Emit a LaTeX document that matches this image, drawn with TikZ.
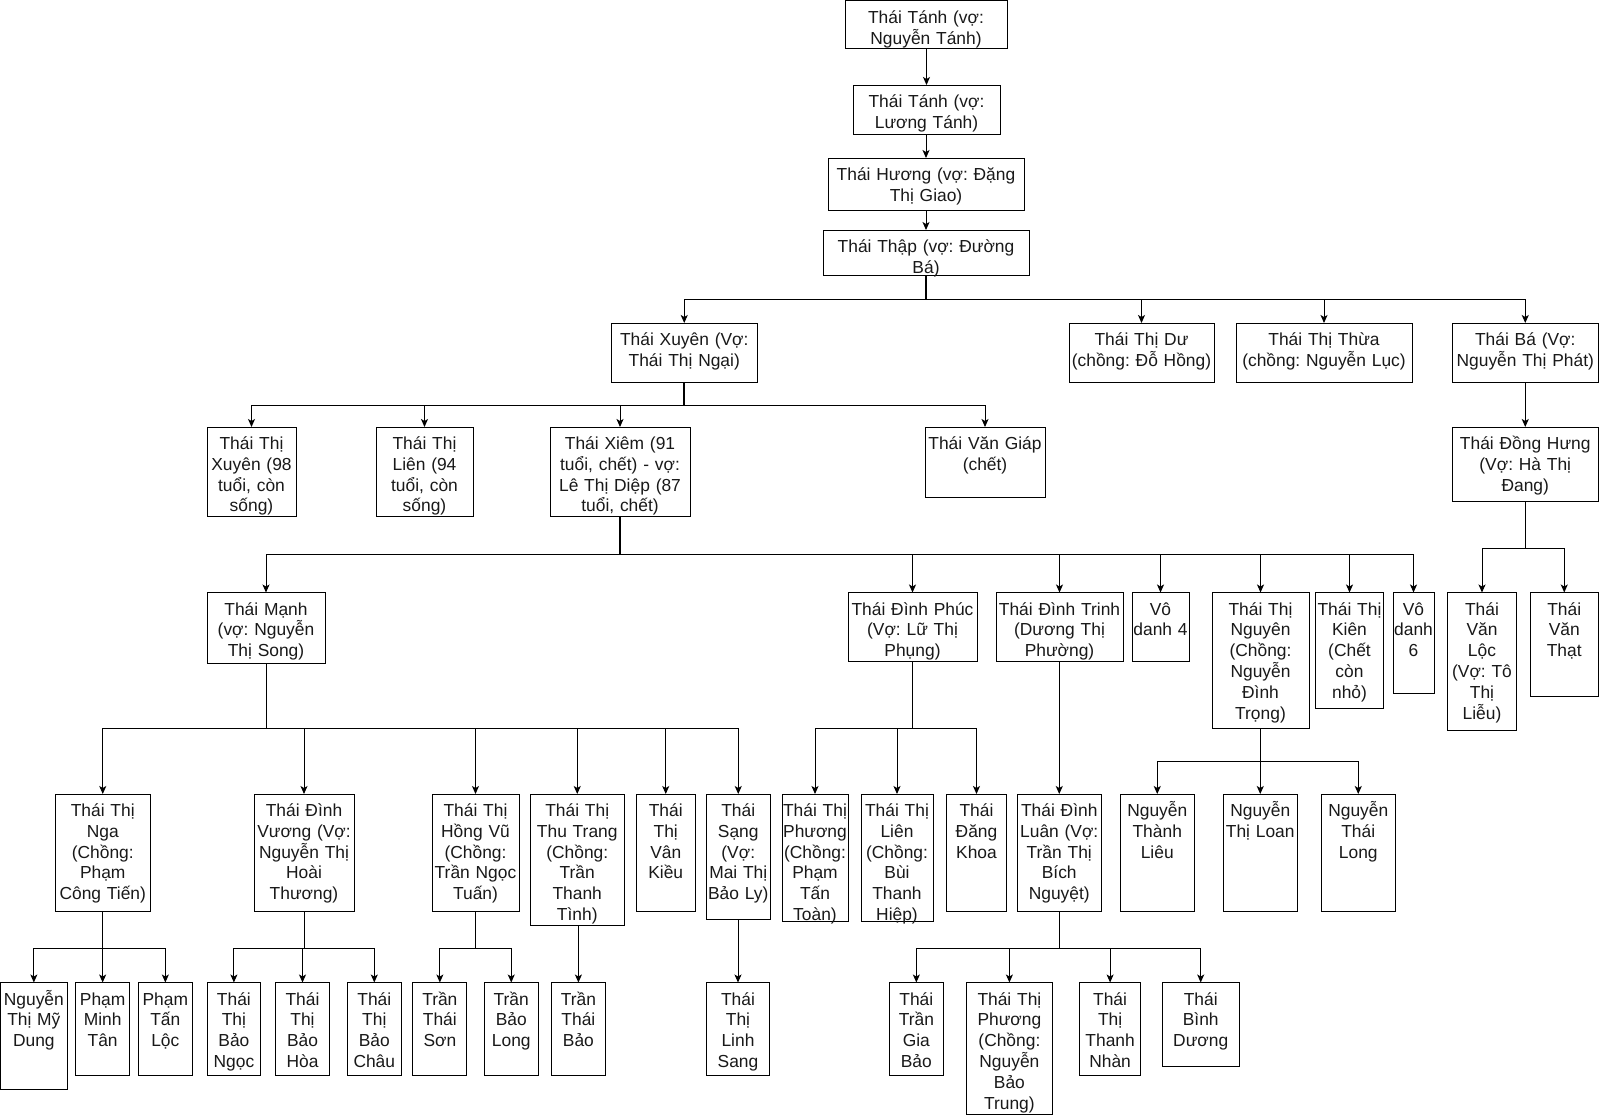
\documentclass[tikz,border=0pt]{standalone}
\usepackage{fontspec}
\setmainfont{Liberation Sans}
\usetikzlibrary{arrows.meta}
\frenchspacing
\newcommand\kinbox[6]{%
  \node[box, minimum width={#4pt-#2pt}, minimum height={#5pt-#3pt}] (#1) at ({(#2+#4)/2},{(#3+#5)/2}) {};
  \node[txt, anchor=base] (#1t) at ([yshift=-22.5pt]#1.north) {#6};
}
\newcommand\kinlink[3]{\draw[arr] (#1.south) -- (#1.south |- #2) -| (#3.north);}
\newcommand\kinstraight[2]{\draw[arr] (#2.north |- #1.south) -- (#2.north);}
\begin{document}
\begin{tikzpicture}[x=1pt,y=-1pt,
  box/.style={draw=black, line width=1pt, inner sep=0pt, outer sep=0pt},
  txt/.style={inner sep=0pt, text width=200pt, align=center, font=\fontsize{17.4}{20.8}\selectfont\frenchspacing, text=black!90},
  arr/.style={draw=black, line width=1pt, -{Stealth[length=8pt,width=7pt,inset=2pt]}},
  trunk/.style={draw=black, line width=1.8pt}]
\fill[white] (0,0) rectangle (1600,1116);
\useasboundingbox (0,0) rectangle (1600,1116);

% bus levels
\coordinate (y1) at (0,299);
\coordinate (y2) at (0,405);
\coordinate (y3) at (0,554);
\coordinate (y3h) at (0,548);
\coordinate (y4) at (0,728.6);
\coordinate (y4n) at (0,761);
\coordinate (y5) at (0,948);

% top chain
\kinbox{a1}{845}{1}{1007}{49}{Thái Tánh (vợ:\\Nguyễn Tánh)}
\kinbox{a2}{853}{85}{1000}{134}{Thái Tánh (vợ:\\Lương Tánh)}
\kinbox{a3}{828}{158}{1024}{210}{Thái Hương (vợ: Đặng\\Thị Giao)}
\kinbox{a4}{823}{230}{1029}{275}{Thái Thập (vợ: Đường\\Bá)}

% level 2
\kinbox{b1}{611.5}{323}{757}{382}{Thái Xuyên (Vợ:\\Thái Thị Ngại)}
\kinbox{b2}{1069}{323}{1214}{382}{Thái Thị Dư\\(chồng: Đỗ Hồng)}
\kinbox{b3}{1236}{323}{1412}{382}{Thái Thị Thừa\\(chồng: Nguyễn Lục)}
\kinbox{b4}{1452}{323}{1598.5}{382}{Thái Bá (Vợ:\\Nguyễn Thị Phát)}

% level 3
\kinbox{c1}{207}{427}{296}{516}{Thái Thị\\Xuyên (98\\tuổi, còn\\sống)}
\kinbox{c2}{376}{427}{473}{516}{Thái Thị\\Liên (94\\tuổi, còn\\sống)}
\kinbox{c3}{550}{427}{690}{516}{Thái Xiêm (91\\tuổi, chết) - vợ:\\Lê Thị Diệp (87\\tuổi, chết)}
\kinbox{c4}{925}{427}{1045}{497}{Thái Văn Giáp\\(chết)}
\kinbox{c5}{1452}{427}{1598.5}{501.5}{Thái Đồng Hưng\\(Vợ: Hà Thị\\Đang)}

% level 4
\kinbox{d1}{207}{592.5}{325}{663.5}{Thái Mạnh\\(vợ: Nguyễn\\Thị Song)}
\kinbox{d2}{848}{592.5}{977}{661}{Thái Đình Phúc\\(Vợ: Lữ Thị\\Phụng)}
\kinbox{d3}{996}{592.5}{1123}{661}{Thái Đình Trinh\\(Dương Thị\\Phường)}
\kinbox{d4}{1132}{592.5}{1189}{661}{Vô\\danh 4}
\kinbox{d5}{1212}{592.5}{1309}{728}{Thái Thị\\Nguyên\\(Chồng:\\Nguyễn\\Đình\\Trọng)}
\kinbox{d6}{1315.5}{592.5}{1383.5}{708}{Thái Thị\\Kiên\\(Chết\\còn\\nhỏ)}
\kinbox{d7}{1393}{592.5}{1434}{693.5}{Vô\\danh\\6}
\kinbox{d8}{1447.5}{592.5}{1516.5}{730}{Thái\\Văn\\Lộc\\(Vợ: Tô\\Thị\\Liễu)}
\kinbox{d9}{1530}{592.5}{1598.5}{696.5}{Thái\\Văn\\Thạt}

% level 5
\kinbox{e1}{55}{794}{150.5}{911.5}{Thái Thị\\Nga\\(Chồng:\\Phạm\\Công Tiến)}
\kinbox{e2}{254}{794}{354}{911.5}{Thái Đình\\Vương (Vợ:\\Nguyễn Thị\\Hoài\\Thương)}
\kinbox{e3}{432}{794}{519}{911}{Thái Thị\\Hồng Vũ\\(Chồng:\\Trần Ngọc\\Tuấn)}
\kinbox{e4}{530}{794}{624.5}{925.5}{Thái Thị\\Thu Trang\\(Chồng:\\Trần\\Thanh\\Tình)}
\kinbox{e5}{636.5}{794}{695}{911}{Thái\\Thị\\Vân\\Kiều}
\kinbox{e6}{706}{794}{770.5}{919.5}{Thái\\Sạng\\(Vợ:\\Mai Thị\\Bảo Ly)}
\kinbox{e7}{782}{794}{848}{921.5}{Thái Thị\\Phương\\(Chồng:\\Phạm\\Tấn\\Toàn)}
\kinbox{e8}{861}{794}{933}{921.5}{Thái Thị\\Liên\\(Chồng:\\Bùi\\Thanh\\Hiệp)}
\kinbox{e9}{946.5}{794}{1006.5}{911}{Thái\\Đăng\\Khoa}
\kinbox{e10}{1017.5}{794}{1101}{911.5}{Thái Đình\\Luân (Vợ:\\Trần Thị\\Bích\\Nguyệt)}
\kinbox{e11}{1120}{794}{1194.5}{911.5}{Nguyễn\\Thành\\Liêu}
\kinbox{e12}{1223}{794}{1297.5}{911.5}{Nguyễn\\Thị Loan}
\kinbox{e13}{1321}{794}{1395.5}{911.5}{Nguyễn\\Thái\\Long}

% level 6
\kinbox{f1}{0.7}{982.5}{67}{1089.5}{Nguyễn\\Thị Mỹ\\Dung}
\kinbox{f2}{75.7}{982.5}{129.6}{1075.7}{Phạm\\Minh\\Tân}
\kinbox{f3}{138.6}{982.5}{192.1}{1075.7}{Phạm\\Tấn\\Lộc}
\kinbox{f4}{207.1}{982.5}{260.7}{1075.7}{Thái\\Thị\\Bảo\\Ngọc}
\kinbox{f5}{275.7}{982.5}{329.3}{1075.7}{Thái\\Thị\\Bảo\\Hòa}
\kinbox{f6}{347.5}{982.5}{401.1}{1075.7}{Thái\\Thị\\Bảo\\Châu}
\kinbox{f7}{412.9}{982.5}{466.8}{1075.7}{Trần\\Thái\\Sơn}
\kinbox{f8}{484.3}{982.5}{538.2}{1075.7}{Trần\\Bảo\\Long}
\kinbox{f9}{551.2}{982.5}{605.6}{1075.7}{Trần\\Thái\\Bảo}
\kinbox{f10}{706.5}{982.5}{769.5}{1075.7}{Thái\\Thị\\Linh\\Sang}
\kinbox{f11}{889.6}{982.5}{943.1}{1075.7}{Thái\\Trần\\Gia\\Bảo}
\kinbox{f12}{966.3}{982.5}{1052.5}{1114.3}{Thái Thị\\Phương\\(Chồng:\\Nguyễn\\Bảo\\Trung)}
\kinbox{f13}{1079.3}{982.5}{1140.9}{1075.7}{Thái\\Thị\\Thanh\\Nhàn}
\kinbox{f14}{1162.3}{982.5}{1239.1}{1066}{Thái\\Bình\\Dương}

% connectors
\kinstraight{a1}{a2}
\kinstraight{a2}{a3}
\kinstraight{a3}{a4}

\draw[trunk] (a4.south) -- (a4.south |- y1);
\kinlink{a4}{y1}{b1}
\kinlink{a4}{y1}{b2}
\kinlink{a4}{y1}{b3}
\kinlink{a4}{y1}{b4}

\draw[trunk] (b1.south) -- (b1.south |- y2);
\kinlink{b1}{y2}{c1}
\kinlink{b1}{y2}{c2}
\kinlink{b1}{y2}{c3}
\kinlink{b1}{y2}{c4}
\kinstraight{b4}{c5}

\draw[trunk] (c3.south) -- (c3.south |- y3);
\kinlink{c3}{y3}{d1}
\kinlink{c3}{y3}{d2}
\kinlink{c3}{y3}{d3}
\kinlink{c3}{y3}{d4}
\kinlink{c3}{y3}{d5}
\kinlink{c3}{y3}{d6}
\kinlink{c3}{y3}{d7}
\kinlink{c5}{y3h}{d8}
\kinlink{c5}{y3h}{d9}

\kinlink{d1}{y4}{e1}
\kinlink{d1}{y4}{e2}
\kinlink{d1}{y4}{e3}
\kinlink{d1}{y4}{e4}
\kinlink{d1}{y4}{e5}
\kinlink{d1}{y4}{e6}
\kinlink{d2}{y4}{e7}
\kinlink{d2}{y4}{e8}
\kinlink{d2}{y4}{e9}
\kinstraight{d3}{e10}
\kinlink{d5}{y4n}{e11}
\kinlink{d5}{y4n}{e12}
\kinlink{d5}{y4n}{e13}

\kinlink{e1}{y5}{f1}
\kinlink{e1}{y5}{f2}
\kinlink{e1}{y5}{f3}
\kinlink{e2}{y5}{f4}
\kinlink{e2}{y5}{f5}
\kinlink{e2}{y5}{f6}
\kinlink{e3}{y5}{f7}
\kinlink{e3}{y5}{f8}
\kinstraight{e4}{f9}
\kinstraight{e6}{f10}
\kinlink{e10}{y5}{f11}
\kinlink{e10}{y5}{f12}
\kinlink{e10}{y5}{f13}
\kinlink{e10}{y5}{f14}
\end{tikzpicture}
\end{document}
